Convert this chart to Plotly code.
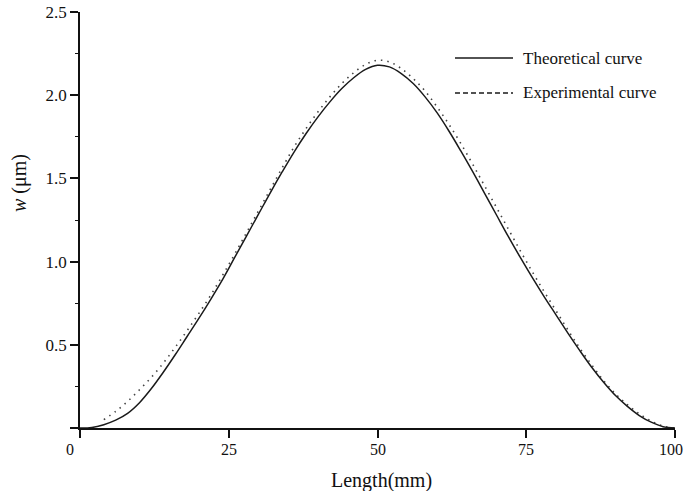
import plotly.graph_objects as go

x_theo = [0, 2, 4, 6, 8, 10, 12, 14, 16, 18, 20, 22, 24, 26, 28, 30, 32, 34, 36, 38, 40,
          42, 44, 46, 48, 50, 52, 54, 56, 58, 60, 62, 64, 66, 68, 70, 72, 74, 76, 78, 80,
          82, 84, 86, 88, 90, 92, 94, 96, 98, 100]
w_theo = [0, 0.003, 0.02, 0.047, 0.088, 0.152, 0.237, 0.335, 0.44, 0.55, 0.66, 0.775, 0.895,
          1.025, 1.155, 1.285, 1.415, 1.54, 1.66, 1.77, 1.87, 1.96, 2.04, 2.105, 2.155, 2.18,
          2.17, 2.13, 2.07, 1.99, 1.895, 1.785, 1.665, 1.54, 1.41, 1.28, 1.15, 1.025, 0.905,
          0.79, 0.68, 0.57, 0.465, 0.365, 0.275, 0.195, 0.13, 0.075, 0.035, 0.008, 0]

x_exp = [4, 6, 8, 10, 12, 14, 16, 18, 20, 22, 24, 26, 28, 30, 32, 34, 36, 38, 40,
         42, 44, 46, 48, 50, 52, 54, 56, 58, 60, 62, 64, 66, 68, 70, 72, 74, 76, 78, 80,
         82, 84, 86, 88, 90, 92, 94, 96, 98, 100]
w_exp = [0.05, 0.1, 0.16, 0.23, 0.305, 0.39, 0.485, 0.585, 0.69, 0.80, 0.92,
         1.045, 1.175, 1.305, 1.435, 1.565, 1.69, 1.80, 1.90, 1.99, 2.07, 2.135, 2.185, 2.21,
         2.20, 2.16, 2.10, 2.025, 1.93, 1.825, 1.71, 1.585, 1.455, 1.325, 1.195, 1.065, 0.94,
         0.82, 0.705, 0.59, 0.48, 0.38, 0.285, 0.205, 0.14, 0.085, 0.042, 0.012, 0]

x_ticks = [0, 25, 50, 75, 100]
x_ticklabels = ["0", "25", "50", "75", "100"]
y_ticks = [0, 0.5, 1.0, 1.5, 2.0, 2.5]
y_ticklabels = ["", "0.5", "1.0", "1.5", "2.0", "2.5"]

FONT = "Liberation Serif, Times New Roman, serif"

fig = go.Figure()
fig.add_trace(go.Scatter(x=x_exp, y=w_exp, mode="lines", line_shape="spline",
                         line=dict(color="#444", width=1.6, dash="1.5px,5px"),
                         name="Experimental curve", showlegend=False))
fig.add_trace(go.Scatter(x=x_theo, y=w_theo, mode="lines", line_shape="spline",
                         line=dict(color="#1a1a1a", width=1.5),
                         name="Theoretical curve", showlegend=False))

W, H = 685, 491
# plot area in window pixels: x 80..675, y 12..428
L, R, T, B = 80, W - 675, 12, H - 428
pw, ph = W - L - R, H - T - B


def px(xp):
    return (xp - L) / pw


def py(yp):
    return (H - B - yp) / ph


shapes = []
annotations = []

# x tick labels (corner "0" and end "100" nudged inward like the original)
label_shift = {0: -10, 100: -4}
for xv, lab in zip(x_ticks, x_ticklabels):
    annotations.append(dict(xref="x", yref="paper", x=xv, y=0, text=lab, showarrow=False,
                            xanchor="center", yanchor="middle",
                            xshift=label_shift.get(xv, 0), yshift=-21,
                            font=dict(family=FONT, size=16, color="#111")))

# legend drawn manually
legend_rows = [("Theoretical curve", "solid", 58), ("Experimental curve", "5px,3px", 93)]
for label, dash, yp in legend_rows:
    shapes.append(dict(type="line", xref="paper", yref="paper",
                       x0=px(455), x1=px(513), y0=py(yp), y1=py(yp),
                       line=dict(color="#1a1a1a", width=1.6, dash=dash)))
    annotations.append(dict(xref="paper", yref="paper", x=px(521), y=py(yp),
                            text=label, showarrow=False, xanchor="left", yanchor="middle",
                            font=dict(family=FONT, size=17, color="#111")))

annotations.append(dict(xref="paper", yref="paper", x=px(381), y=py(480),
                        text="Length(mm)", showarrow=False, xanchor="center", yanchor="middle",
                        font=dict(family=FONT, size=20, color="#111")))
annotations.append(dict(xref="paper", yref="paper", x=px(19), y=py(183),
                        text="<i>w</i> (μm)", showarrow=False, textangle=-90,
                        xanchor="center", yanchor="middle",
                        font=dict(family=FONT, size=20, color="#111")))

fig.update_layout(
    width=W, height=H,
    margin=dict(l=L, r=R, t=T, b=B, autoexpand=False),
    plot_bgcolor="white", paper_bgcolor="white",
    shapes=shapes, annotations=annotations,
    font=dict(family=FONT, size=17, color="#111"),
)
fig.update_xaxes(range=[0, 100], tickvals=x_ticks, showticklabels=False, ticks="outside",
                 ticklen=8, tickwidth=1.5,
                 tickcolor="#111", showline=True, linecolor="#111", linewidth=1.5,
                 showgrid=False, zeroline=False, automargin=False)
fig.update_yaxes(range=[0, 2.5], tickvals=y_ticks, ticktext=y_ticklabels, ticks="outside",
                 ticklen=8, tickwidth=1.5, tickcolor="#111", showline=True, linecolor="#111",
                 linewidth=1.5, showgrid=False, zeroline=False,
                 tickfont=dict(family=FONT, size=17, color="#111"),
                 automargin=False, ticklabeloverflow="allow",
                 minor=dict(dtick=0.25, ticks="outside", ticklen=3, tickwidth=1.2,
                            tickcolor="#111", showgrid=False))

fig.write_html("out.html", config={"displayModeBar": False},
               post_script="document.body.style.margin='0px';document.body.style.overflow='hidden';")
